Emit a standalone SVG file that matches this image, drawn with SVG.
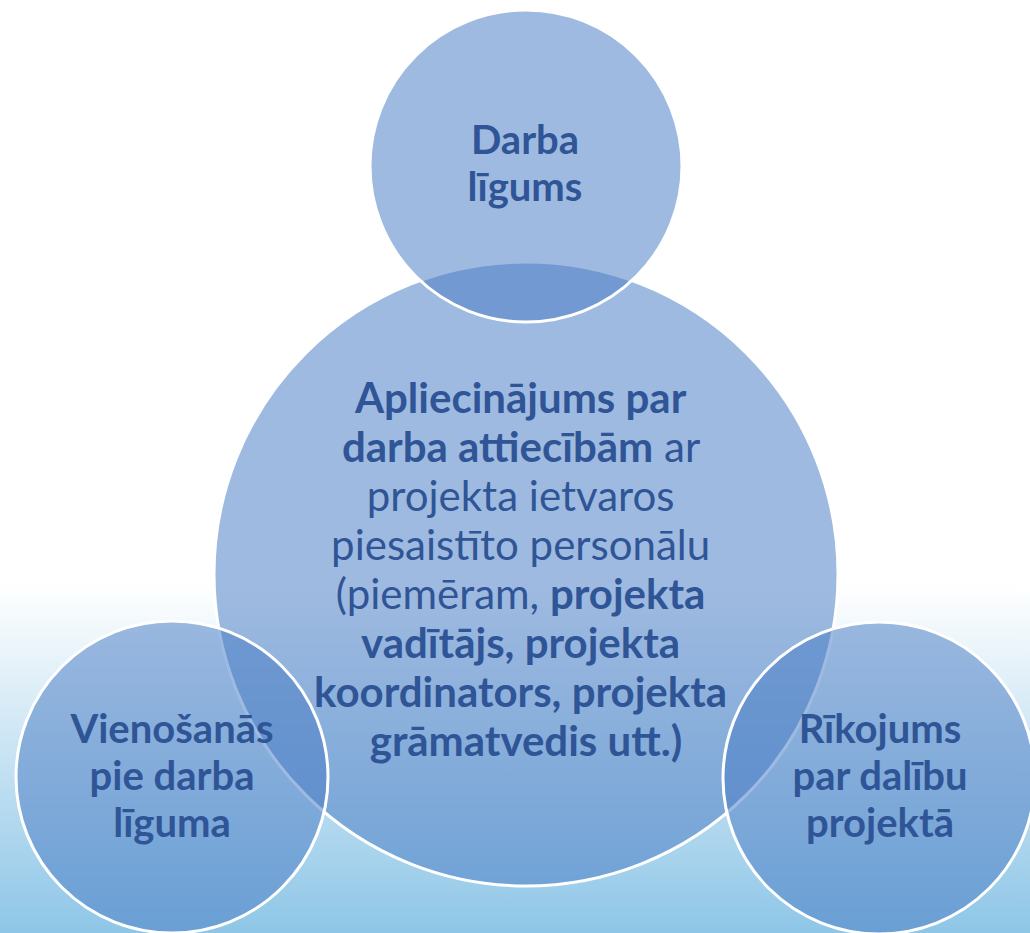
<svg xmlns="http://www.w3.org/2000/svg" width="1030" height="933" viewBox="0 0 1030 933">
<defs>
<linearGradient id="bg" gradientUnits="userSpaceOnUse" x1="0" y1="585" x2="0" y2="933">
<stop offset="0" stop-color="#ffffff"/>
<stop offset="1" stop-color="#8ec6e7"/>
</linearGradient>
<style>
.c{fill:#4a7dc4;fill-opacity:0.53;stroke:#ffffff;stroke-width:3}
.t{font-family:Lato,"Noto Sans",sans-serif;fill:#2f5597;text-anchor:middle}
.b{font-weight:bold}
.r{font-weight:normal}
</style>
</defs>
<rect x="0" y="0" width="1030" height="933" fill="url(#bg)"/>
<g id="center">
<circle class="c" cx="526" cy="574" r="312"/>
<text class="t" font-size="42">
<tspan x="526" y="413" class="b">Apliecinājums par</tspan>
<tspan x="526" y="462"><tspan class="b">darba attiecībām</tspan><tspan class="r"> ar</tspan></tspan>
<tspan x="526" y="511" class="r">projekta ietvaros</tspan>
<tspan x="526" y="560" class="r">piesaistīto personālu</tspan>
<tspan x="526" y="609"><tspan class="r">(piemēram, </tspan><tspan class="b">projekta</tspan></tspan>
<tspan x="526" y="658" class="b">vadītājs, projekta</tspan>
<tspan x="526" y="707" class="b">koordinators, projekta</tspan>
<tspan x="526" y="756" class="b">grāmatvedis utt.)</tspan>
</text>
</g>
<g id="top">
<circle class="c" cx="526" cy="166" r="156"/>
<text class="t b" font-size="40"><tspan x="525" y="154">Darba</tspan><tspan x="525" y="201">līgums</tspan></text>
</g>
<g id="left">
<circle class="c" cx="172" cy="777" r="156"/>
<text class="t b" font-size="40"><tspan x="172" y="743">Vienošanās</tspan><tspan x="172" y="790">pie darba</tspan><tspan x="172" y="837">līguma</tspan></text>
</g>
<g id="right">
<circle class="c" cx="879" cy="778" r="156"/>
<text class="t b" font-size="40"><tspan x="880" y="743">Rīkojums</tspan><tspan x="880" y="790">par dalību</tspan><tspan x="880" y="837">projektā</tspan></text>
</g>
<g id="connectors"/>
</svg>
